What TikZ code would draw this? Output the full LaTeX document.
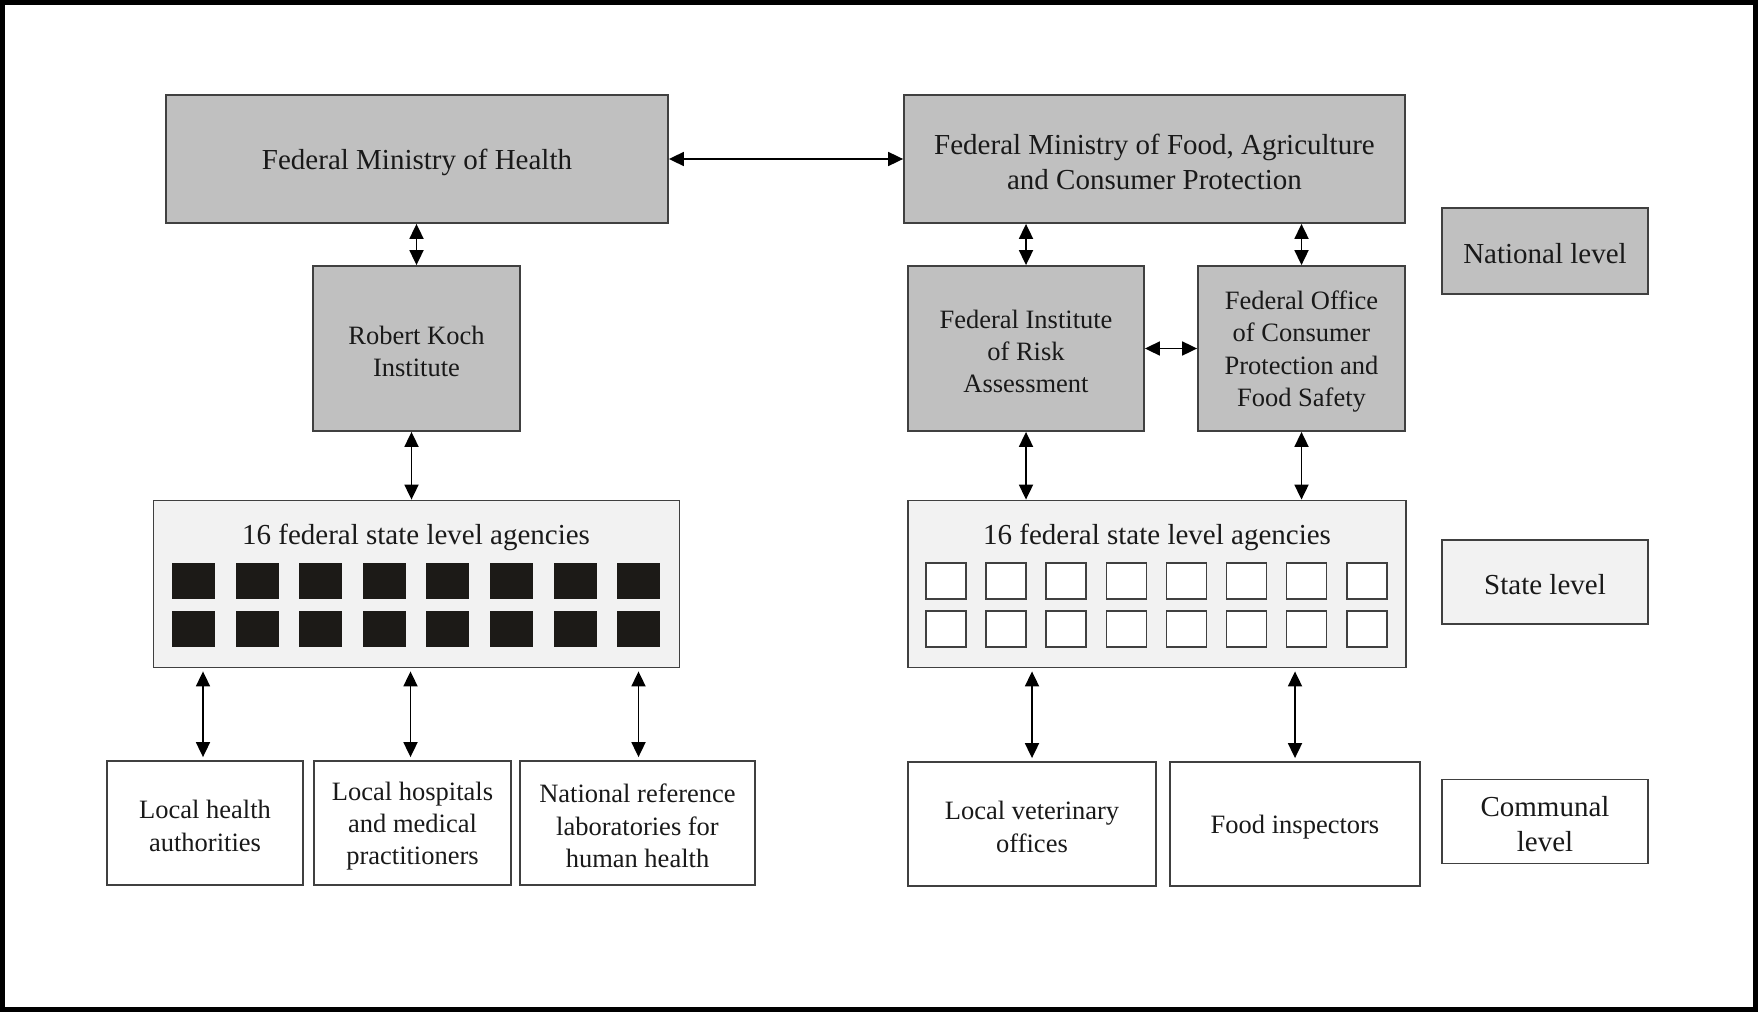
\documentclass[tikz,border=0pt]{standalone}
\usepackage{fontspec}
\setmainfont{Liberation Serif}
\usetikzlibrary{arrows.meta}
\definecolor{boxgray}{HTML}{C0C0C0}
\definecolor{statefill}{HTML}{F2F2F2}
\definecolor{edgegray}{HTML}{404040}
\definecolor{sqdark}{HTML}{1C1A17}
\tikzset{
 box/.style={draw=edgegray, line width=1.8pt, inner sep=0pt},
 smalltxt/.style={label={[inner sep=0pt, yshift=-3pt, align=center, text=black!90, font=\fontsize{26.5}{32.3}\selectfont]center:{#1}}},
 bigtxt/.style={label={[inner sep=0pt, yshift=-3pt, align=center, text=black!90, font=\fontsize{29}{35}\selectfont]center:{#1}}},
 grayfill/.style={fill=boxgray},
 lightfill/.style={fill=statefill},
 whitefill/.style={fill=white},
 arr/.style={{Triangle[length=15pt,width=14pt]}-{Triangle[length=15pt,width=14pt]}, line width=1.8pt},
 titletext/.style={inner sep=0pt, text=black!90, font=\fontsize{29}{35}\selectfont},
 blacksq/.style={fill=sqdark},
 whitesq/.style={fill=white, draw=edgegray, line width=1.6pt},
}
\begin{document}
\begin{tikzpicture}[x=1pt,y=-1pt]
\useasboundingbox (0,0) rectangle (1760,1014);
\draw[line width=5pt] (2.5,2.5) rectangle (1755,1009.5);

% National level
\node[box, grayfill, minimum width=502pt, minimum height=128pt, bigtxt={Federal Ministry of Health}] (FMH) at (417,159) {};
\node[box, grayfill, minimum width=501pt, minimum height=128pt, bigtxt={Federal Ministry of Food, Agriculture\\and Consumer Protection}] (FMF) at (1154.5,159) {};
\node[box, grayfill, minimum width=207pt, minimum height=165pt, smalltxt={Robert Koch\\Institute}] (RKI) at (416.5,348.5) {};
\node[box, grayfill, minimum width=236pt, minimum height=165pt, smalltxt={Federal Institute\\of Risk\\Assessment}] (FIRA) at (1026,348.5) {};
\node[box, grayfill, minimum width=207pt, minimum height=165pt, smalltxt={Federal Office\\of Consumer\\Protection and\\Food Safety}] (FOC) at (1301.5,348.5) {};
\node[box, grayfill, minimum width=206pt, minimum height=86pt, bigtxt={National level}] (NAT) at (1545,251) {};

% State level
\node[box, lightfill, minimum width=526pt, minimum height=167pt] (LS) at (416.5,584) {};
\node[titletext] (LST) at (416,537) {16 federal state level agencies};
\node[box, lightfill, minimum width=498pt, minimum height=167pt] (RS) at (1157,584) {};
\node[titletext] (RST) at (1157,537) {16 federal state level agencies};
\node[box, lightfill, minimum width=206pt, minimum height=84pt, bigtxt={State level}] (STL) at (1545,582) {};

\foreach \i in {0,...,7}{
  \fill[blacksq] ({172+\i*63.6},563) rectangle ++(43,36);
  \fill[blacksq] ({172+\i*63.6},611) rectangle ++(43,36);
  \draw[whitesq] ({926+\i*60.1},563) rectangle ++(40,36);
  \draw[whitesq] ({926+\i*60.1},611) rectangle ++(40,36);
}

% Communal level
\node[box, whitefill, minimum width=196pt, minimum height=124pt, smalltxt={Local health\\authorities}] (LH) at (205,823) {};
\node[box, whitefill, minimum width=197pt, minimum height=124pt, smalltxt={Local hospitals\\and medical\\practitioners}] (HOS) at (412.5,823) {};
\node[box, whitefill, minimum width=235pt, minimum height=124pt, smalltxt={National reference\\laboratories for\\human health}] (NRL) at (637.5,823) {};
\node[box, whitefill, minimum width=248pt, minimum height=124pt, smalltxt={Local veterinary\\offices}] (VET) at (1032,824) {};
\node[box, whitefill, minimum width=250pt, minimum height=124pt, smalltxt={Food inspectors}] (FOOD) at (1295,824) {};
\node[box, whitefill, minimum width=206pt, minimum height=84pt, bigtxt={Communal\\level}] (COM) at (1545,821.5) {};

% Connectors
\draw[arr] (FMH.east) -- (FMF.west);
\draw[arr] (FMH.south -| RKI.north) -- (RKI.north);
\draw[arr] ([xshift=-5pt]RKI.south) -- ([xshift=-5pt]RKI.south |- LS.north);
\draw[arr] (FMF.south -| FIRA.north) -- (FIRA.north);
\draw[arr] (FMF.south -| FOC.north) -- (FOC.north);
\draw[arr] (FIRA.east) -- (FOC.west);
\draw[arr] (FIRA.south) -- (FIRA.south |- RS.north);
\draw[arr] (FOC.south) -- (FOC.south |- RS.north);
\draw[arr, shorten <=3pt, shorten >=3pt] ([xshift=-2pt]LS.south -| LH.north) -- ([xshift=-2pt]LH.north);
\draw[arr, shorten <=3pt, shorten >=3pt] ([xshift=-2pt]LS.south -| HOS.north) -- ([xshift=-2pt]HOS.north);
\draw[arr, shorten <=3pt, shorten >=3pt] ([xshift=1pt]LS.south -| NRL.north) -- ([xshift=1pt]NRL.north);
\draw[arr, shorten <=3pt, shorten >=3pt] (RS.south -| VET.north) -- (VET.north);
\draw[arr, shorten <=3pt, shorten >=3pt] (RS.south -| FOOD.north) -- (FOOD.north);
\end{tikzpicture}
\end{document}
